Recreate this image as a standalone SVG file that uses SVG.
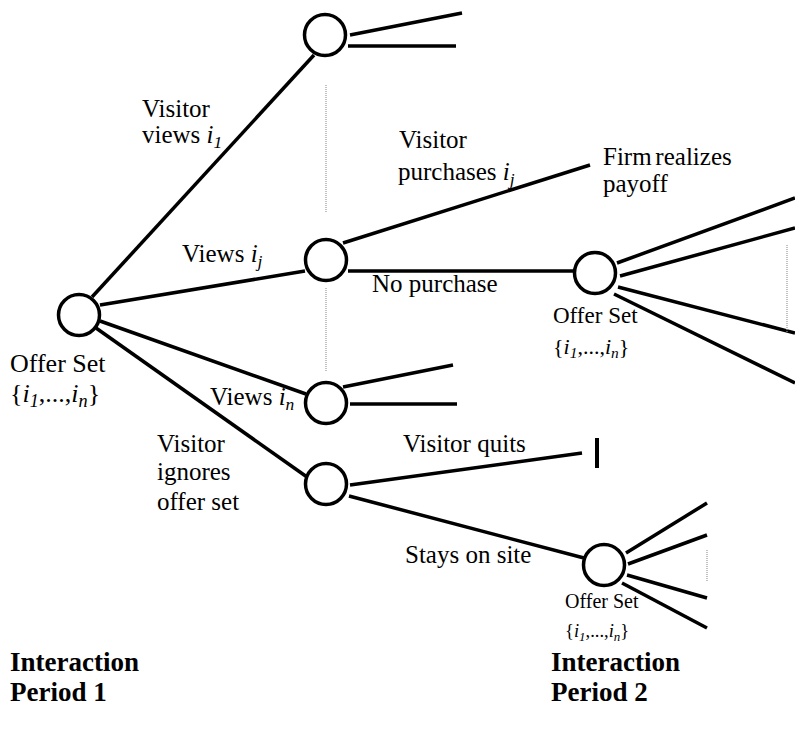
<svg xmlns="http://www.w3.org/2000/svg" width="795" height="729" viewBox="0 0 795 729">
  <style>
    .node { fill: #fff; stroke: #000; stroke-width: 3.5; }
    .edge { stroke: #000; stroke-width: 3.5; stroke-linecap: butt; fill: none; }
    .dots { stroke: #999; stroke-width: 1.2; stroke-dasharray: 1 1; fill: none; }
    .lbl { font-family: "Liberation Serif", "Times New Roman", serif; font-size: 25px; fill: #000; }
    .bold { font-family: "Liberation Serif", "Times New Roman", serif; font-size: 27px; font-weight: bold; fill: #000; }
    .it { font-style: italic; }
    .sub { font-style: italic; font-size: 70%; }
  </style>

  <!-- connectors -->
  <g id="connectors">
    <!-- from the first offer set -->
    <line class="edge" x1="92" y1="297" x2="314" y2="55"/>
    <line class="edge" x1="100" y1="305" x2="305" y2="271"/>
    <line class="edge" x1="100" y1="321" x2="306" y2="394"/>
    <line class="edge" x1="96" y1="328" x2="307" y2="477"/>
    <!-- top view node -->
    <line class="edge" x1="350" y1="35" x2="462" y2="13"/>
    <line class="edge" x1="348" y1="46" x2="456" y2="46"/>
    <!-- view i_j node -->
    <line class="edge" x1="343" y1="243" x2="590" y2="165"/>
    <line class="edge" x1="348" y1="271" x2="573" y2="271"/>
    <!-- view i_n node -->
    <line class="edge" x1="343" y1="387" x2="453" y2="365"/>
    <line class="edge" x1="350" y1="404" x2="457" y2="404"/>
    <!-- ignore node -->
    <line class="edge" x1="350" y1="485" x2="582" y2="453"/>
    <line class="edge" x1="349" y1="496" x2="584" y2="558"/>
    <line x1="597" y1="438" x2="597" y2="468" stroke="#000" stroke-width="4"/>
    <!-- period 2 offer set (after no purchase) -->
    <line class="edge" x1="617" y1="263" x2="795" y2="198"/>
    <line class="edge" x1="620" y1="276" x2="795" y2="228"/>
    <line class="edge" x1="618" y1="287" x2="795" y2="333"/>
    <line class="edge" x1="614" y1="294" x2="795" y2="383"/>
    <!-- period 2 offer set (stays on site) -->
    <line class="edge" x1="626" y1="553" x2="707" y2="503"/>
    <line class="edge" x1="628" y1="564" x2="707" y2="535"/>
    <line class="edge" x1="627" y1="575" x2="707" y2="598"/>
    <line class="edge" x1="622" y1="583" x2="707" y2="628"/>
    <!-- elided branches -->
    <line class="dots" x1="326" y1="85" x2="326" y2="212"/>
    <line class="dots" x1="326" y1="288" x2="326" y2="372"/>
    <line class="dots" x1="787" y1="245" x2="787" y2="332"/>
    <line class="dots" x1="707" y1="550" x2="707" y2="582"/>
  </g>

  <!-- nodes -->
  <g id="root"><circle class="node" cx="79" cy="315" r="20.5"/></g>
  <g id="view-1"><circle class="node" cx="325" cy="35" r="20.5"/></g>
  <g id="view-j"><circle class="node" cx="326" cy="260" r="20.5"/></g>
  <g id="view-n"><circle class="node" cx="326" cy="403" r="20.5"/></g>
  <g id="ignore"><circle class="node" cx="326" cy="484" r="20.5"/></g>
  <g id="offer-2a"><circle class="node" cx="595" cy="273" r="20.5"/></g>
  <g id="offer-2b"><circle class="node" cx="604" cy="565" r="20.5"/></g>

  <!-- labels -->
  <g id="labels">
    <text class="lbl" x="10" y="372" style="font-size:26px">Offer Set</text>
    <text class="lbl" x="10" y="402" style="font-size:26px">{<tspan class="it">i</tspan><tspan class="sub" dy="5">1</tspan><tspan dy="-5">,...,</tspan><tspan class="it">i</tspan><tspan class="sub" dy="5">n</tspan><tspan dy="-5">}</tspan></text>

    <text class="lbl" x="142" y="117">Visitor</text>
    <text class="lbl" x="142" y="143">views <tspan class="it">i</tspan><tspan class="sub" dy="5">1</tspan></text>

    <text class="lbl" x="182" y="262">Views <tspan class="it">i</tspan><tspan class="sub" dy="5">j</tspan></text>

    <text class="lbl" x="399" y="148">Visitor</text>
    <text class="lbl" x="398" y="180">purchases <tspan class="it">i</tspan><tspan class="sub" dy="5">j</tspan></text>

    <text class="lbl" x="603" y="165" word-spacing="-2.5">Firm realizes</text>
    <text class="lbl" x="603" y="192">payoff</text>

    <text class="lbl" x="372" y="292">No purchase</text>

    <text class="lbl" x="553" y="323" style="font-size:23px">Offer Set</text>
    <text class="lbl" x="553" y="354" style="font-size:22px">{<tspan class="it">i</tspan><tspan class="sub" dy="4">1</tspan><tspan dy="-4">,...,</tspan><tspan class="it">i</tspan><tspan class="sub" dy="4">n</tspan><tspan dy="-4">}</tspan></text>

    <text class="lbl" x="210" y="405">Views <tspan class="it">i</tspan><tspan class="sub" dy="5">n</tspan></text>

    <text class="lbl" x="157" y="452">Visitor</text>
    <text class="lbl" x="157" y="480">ignores</text>
    <text class="lbl" x="157" y="510">offer set</text>

    <text class="lbl" x="403" y="452">Visitor quits</text>
    <text class="lbl" x="405" y="563">Stays on site</text>

    <text class="lbl" x="565" y="608" style="font-size:20px">Offer Set</text>
    <text class="lbl" x="565" y="637" style="font-size:18.5px">{<tspan class="it">i</tspan><tspan class="sub" dy="4">1</tspan><tspan dy="-4">,...,</tspan><tspan class="it">i</tspan><tspan class="sub" dy="4">n</tspan><tspan dy="-4">}</tspan></text>

    <text class="bold" x="10" y="671">Interaction</text>
    <text class="bold" x="10" y="701">Period 1</text>
    <text class="bold" x="551" y="671">Interaction</text>
    <text class="bold" x="551" y="701">Period 2</text>
  </g>
</svg>
